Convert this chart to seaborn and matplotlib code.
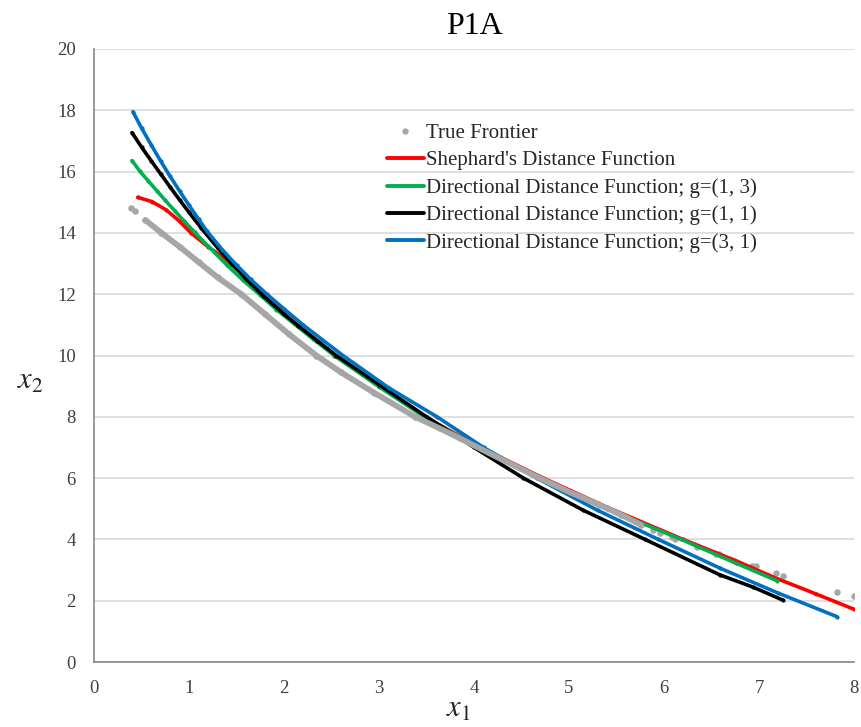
import pandas as pd
import matplotlib
matplotlib.use('Agg')
import matplotlib.pyplot as plt
import seaborn as sns
from matplotlib.lines import Line2D

# values
tf_x = [0.39, 0.43, 0.54, 0.71, 0.9, 1.1, 1.3, 1.55, 1.8, 2.05, 2.34, 2.6, 2.95, 3.38,
        3.64, 3.85, 4.2, 4.69, 5.0, 5.3, 5.55, 5.76, 5.88, 5.96, 6.08, 6.12, 6.35,
        6.55, 6.58, 6.93, 6.97, 7.18, 7.25, 7.82, 8.0]
tf_y = [14.80, 14.72, 14.42, 14.0, 13.55, 13.05, 12.55, 12.0, 11.35, 10.7, 10.0, 9.45,
        8.78, 8.0, 7.62, 7.3, 6.75, 6.0, 5.55, 5.15, 4.8, 4.47, 4.31, 4.22, 4.09, 4.02,
        3.76, 3.53, 3.52, 3.13, 3.12, 2.89, 2.82, 2.29, 2.15]

shep_x = [0.46, 0.61, 0.76, 0.9, 1.02, 1.2, 1.36, 1.55, 1.77, 2.06, 2.53, 3.0, 3.48,
          4.1, 4.73, 5.4, 6.2, 6.76, 7.19, 7.6, 8.0]
shep_y = [15.16, 15.02, 14.75, 14.38, 14.0, 13.55, 13.2, 12.7, 12.0, 11.2, 10.0, 9.0,
          8.0, 6.95, 6.0, 5.05, 4.0, 3.3, 2.72, 2.22, 1.72]

g13_x = [0.40, 0.48, 0.57, 0.66, 0.75, 0.85, 0.95, 1.06, 1.2, 1.4, 1.57, 1.75, 1.92,
         2.1, 2.3, 2.53, 3.0, 3.48, 4.1, 4.72, 5.4, 5.75, 6.18, 6.76, 7.19]
g13_y = [16.36, 16.02, 15.70, 15.38, 15.06, 14.72, 14.38, 14.02, 13.57, 12.95, 12.45,
         11.97, 11.5, 11.05, 10.55, 10.0, 8.98, 8.0, 6.9, 5.95, 5.0, 4.55, 4.0, 3.22, 2.65]

g11_x = [0.40, 0.5, 0.6, 0.7, 0.8, 0.9, 1.0, 1.13, 1.3, 1.45, 1.6, 1.78, 2.0, 2.15,
         2.35, 2.55, 3.0, 3.50, 4.0, 4.52, 5.15, 5.8, 6.59, 6.94, 7.25]
g11_y = [17.27, 16.8, 16.36, 15.93, 15.5, 15.08, 14.67, 14.15, 13.52, 13.0, 12.5, 11.95,
         11.35, 10.97, 10.48, 10.0, 9.05, 8.0, 7.0, 6.0, 4.95, 4.0, 2.84, 2.44, 2.02]

g31_x = [0.41, 0.5, 0.6, 0.7, 0.8, 0.9, 1.0, 1.1, 1.19, 1.35, 1.5, 1.65, 1.82, 2.0,
         2.2, 2.4, 2.62, 3.1, 3.61, 4.1, 4.66, 5.3, 5.94, 6.59, 7.2, 7.82]
g31_y = [17.95, 17.42, 16.88, 16.35, 15.85, 15.37, 14.9, 14.45, 14.05, 13.45, 12.95,
         12.48, 12.0, 11.52, 11.0, 10.52, 10.0, 8.95, 8.0, 7.0, 6.0, 4.95, 4.0, 3.06,
         2.25, 1.48]

labels = ["True Frontier", "Shephard's Distance Function",
          "Directional Distance Function; g=(1, 3)",
          "Directional Distance Function; g=(1, 1)",
          "Directional Distance Function; g=(3, 1)"]
colors = ['#A6A6A6', '#FF0000', '#00B050', '#000000', '#0070C0']

sns.set_style('white')
plt.rcParams['font.family'] = ['Liberation Serif', 'DejaVu Serif']
plt.rcParams['mathtext.fontset'] = 'stix'

fig = plt.figure(figsize=(8.61, 7.27), dpi=100)
ax = fig.add_axes([0.1092, 0.0894, 0.8827, 0.8432])

series = [(shep_x, shep_y), (g13_x, g13_y), (g11_x, g11_y), (g31_x, g31_y)]
for (xs, ys), c in zip(series, colors[1:]):
    df = pd.DataFrame({'x': xs, 'y': ys})
    sns.lineplot(data=df, x='x', y='y', sort=False, color=c, lw=2.6,
                 marker='o', markersize=3, markeredgewidth=0, ax=ax)

tf = pd.DataFrame({'x': tf_x, 'y': tf_y})
dense = tf[(tf.x > 0.5) & (tf.x < 5.8)]
sns.lineplot(data=dense, x='x', y='y', sort=False, color=colors[0], lw=4.2, ax=ax)
sns.scatterplot(data=tf, x='x', y='y', color=colors[0], s=22, linewidth=0, ax=ax)

ax.set_xlim(0, 8)
ax.set_ylim(0, 20)
ax.set_xticks(range(0, 9))
ax.set_yticks(range(0, 21, 2))
ax.yaxis.grid(True, color='#D9D9D9', lw=1.2)
ax.xaxis.grid(False)
for s in ['top', 'right']:
    ax.spines[s].set_visible(False)
for s in ['left', 'bottom']:
    ax.spines[s].set_color('#868686')
    ax.spines[s].set_linewidth(1.2)
ax.tick_params(axis='both', direction='out', length=5, width=1, color='#868686',
               labelsize=13.5, labelcolor='#404040', pad=8)

ax.set_xlabel('')
ax.set_ylabel('')
ax.text(0.479, -0.077, r'$x_1$', transform=ax.transAxes, fontsize=22,
        ha='center', va='center')
ax.text(-0.084, 0.458, r'$x_2$', transform=ax.transAxes, fontsize=22,
        ha='center', va='center')
ax.set_title('P1A', fontsize=23, pad=11, color='black')

handles = [Line2D([], [], color=colors[0], marker='o', ls='none', ms=3.5)]
handles += [Line2D([], [], color=c, lw=2.8) for c in colors[1:]]
ax.legend(handles, labels, loc='upper left', bbox_to_anchor=(0.374, 0.892),
          frameon=False, fontsize=15, handlelength=1.8, handletextpad=0.1,
          labelspacing=0.37, borderaxespad=0)

fig.savefig('out.png', dpi=100)
